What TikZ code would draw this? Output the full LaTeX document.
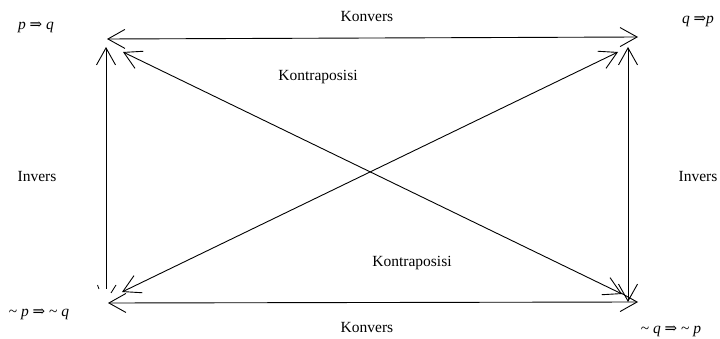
\documentclass[tikz,border=0pt]{standalone}
\usepackage{fontspec}
\setmainfont{Liberation Serif}
\newfontfamily\arrowfont{DejaVu Serif}
\usetikzlibrary{arrows.meta}
\newcommand{\impl}{{\arrowfont\fontsize{15}{15}\selectfont ⇒}}
\tikzset{
  lbl/.style={font=\fontsize{15.5}{17}\selectfont, inner sep=0pt},
  stmt/.style={font=\fontsize{15.5}{17}\selectfont\itshape, inner sep=0pt},
  conn/.style={line width=0.9pt, {Straight Barb[length=17pt,width=19pt]}-{Straight Barb[length=17pt,width=19pt]}},
  oneway/.style={line width=0.9pt, {Straight Barb[length=17pt,width=19pt]}-},
  pt/.style={inner sep=0pt, minimum size=0pt}
}
\begin{document}
\begin{tikzpicture}[x=1pt,y=-1pt]
\useasboundingbox (0,0) rectangle (720,339);
% statements
\node[stmt] (pq) at (36,27) {p \impl\ q};
\node[stmt] (qp) at (698,21) {q \impl p};
\node[stmt] (npnq) at (39,314) {\upshape\char`~\itshape\ p \impl\ \upshape\char`~\itshape\ q};
\node[stmt] (nqnp) at (671,331) {\upshape\char`~\itshape\ q \impl\ \upshape\char`~\itshape\ p};
% labels
\node[lbl] (k1) at (367,17) {Konvers};
\node[lbl] (k2) at (367,327) {Konvers};
\node[lbl] (kp1) at (318,77) {Kontraposisi};
\node[lbl] (kp2) at (412,263) {Kontraposisi};
\node[lbl] (i1) at (37,177) {Invers};
\node[lbl] (i2) at (698,177) {Invers};
% end points
\coordinate (tlh) at (107,39);
\coordinate (trh) at (638,37);
\coordinate (blh) at (108,303);
\coordinate (brh) at (638,302);
\coordinate (tlv) at (106,47);
\coordinate (blv) at (106,289);
\coordinate (trv) at (628,47);
\coordinate (brv) at (628,302);
\coordinate (tld) at (123,52);
\coordinate (brd) at (622,294);
\coordinate (bld) at (122,292);
\coordinate (trd) at (618,52);
% connectors
\draw[conn] (tlh) -- (trh);
\draw[conn] (blh) -- (brh);
\draw[oneway] (tlv) -- (blv);
\draw[conn] (trv) -- (brv);
\draw[conn] (tld) -- (brd);
\draw[conn] (bld) -- (trd);
% small stray strokes
\coordinate (s1) at (97.5,285);
\coordinate (s2) at (99,289);
\coordinate (s3) at (111,293);
\coordinate (s4) at (116,285);
\draw[line width=0.8pt] (s1) -- (s2);
\draw[line width=0.8pt] (s3) -- (s4);
\end{tikzpicture}
\end{document}
